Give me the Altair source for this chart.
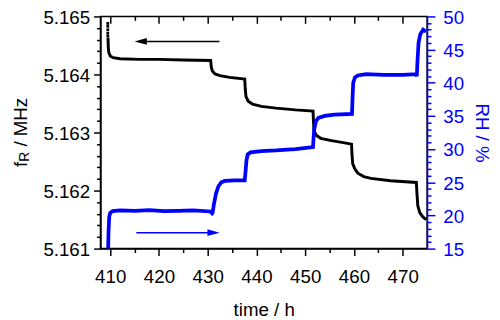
import altair as alt
import pandas as pd

FONT = "Liberation Sans"
BLUE = "#0000ff"

# resonance frequency f_R (MHz) vs time (h)
f_time = [409.55, 409.6, 409.7, 410.0, 410.6, 412.0, 416.0, 420.0, 425.0, 430.6,
          430.75, 430.95, 431.5, 432.5, 434.5, 437.6, 437.7, 437.85, 438.3, 439.2,
          441.0, 444.0, 448.0, 451.6, 451.7, 451.8, 452.3, 453.2, 455.4, 457.5,
          459.5, 459.6, 459.75, 460.2, 460.8, 462.0, 463.5, 467.5, 472.8, 472.95,
          473.1, 473.5, 474.1, 474.8]
f_val = [5.16463, 5.16448, 5.16438, 5.16432, 5.16429, 5.16427, 5.16426, 5.16426, 5.16425, 5.16424,
         5.16412, 5.16406, 5.16401, 5.16398, 5.16395, 5.16392, 5.16375, 5.16362, 5.16354, 5.16349,
         5.16345, 5.16342, 5.16339, 5.16337, 5.16320, 5.16303, 5.16295, 5.16290, 5.16286, 5.16283,
         5.16280, 5.16262, 5.16246, 5.16237, 5.16230, 5.16224, 5.16221, 5.16217, 5.16214, 5.16192,
         5.16174, 5.16162, 5.16155, 5.16150]

# sparse points at the very start of f_R
f_dot_time = [409.5, 409.5, 409.5, 409.5, 409.5]
f_dot_val = [5.16488, 5.16483, 5.16477, 5.16471, 5.16466]

# relative humidity RH (%) vs time (h)
rh_time = [409.55, 409.65, 409.8, 410.0, 410.5, 412.0, 415.0, 418.0, 421.0, 424.0,
           427.0, 430.5, 430.9, 431.0, 431.3, 431.7, 432.2, 432.8, 433.5, 435.5,
           437.6, 437.75, 437.95, 438.2, 438.8, 441.0, 444.0, 448.0, 451.6, 451.7,
           451.85, 452.2, 452.7, 454.0, 456.0, 459.6, 459.7, 459.85, 460.2, 460.8,
           462.5, 466.0, 470.0, 472.7, 472.9, 473.05, 473.25, 473.6, 474.2, 474.8]
rh_val = [14.0, 17.5, 19.8, 20.4, 20.65, 20.75, 20.7, 20.8, 20.65, 20.7,
          20.75, 20.6, 20.3, 20.4, 21.8, 23.3, 24.4, 25.0, 25.2, 25.3,
          25.3, 26.5, 28.3, 29.2, 29.5, 29.7, 29.8, 30.0, 30.3, 31.5,
          33.0, 34.2, 34.7, 35.0, 35.2, 35.3, 37.5, 40.0, 40.8, 41.1,
          41.3, 41.2, 41.2, 41.3, 41.0, 43.5, 46.0, 47.3, 48.0, 47.7]

# arrows: [head centre, tail] in time, and the level
arrow_f_time = [416.25, 432.4]
arrow_f_level = [5.16457]
arrow_rh_time = [415.35, 431.2]
arrow_rh_level = [17.4]

x_major = [410, 420, 430, 440, 450, 460, 470]
x_minor = [415, 425, 435, 445, 455, 465]
f_major = [5.161, 5.162, 5.163, 5.164, 5.165]
f_minor = [5.1612, 5.1614, 5.1616, 5.1618, 5.1622, 5.1624, 5.1626, 5.1628,
           5.1632, 5.1634, 5.1636, 5.1638, 5.1642, 5.1644, 5.1646, 5.1648]
rh_major = [15, 20, 25, 30, 35, 40, 45, 50]
rh_minor = [v for v in range(16, 50) if v % 5 != 0]

X_DOMAIN = [408, 475]
F_DOMAIN = [5.161, 5.165]
RH_DOMAIN = [15, 50]

df_f = pd.DataFrame({"t": f_time, "f": f_val})
df_dots = pd.DataFrame({"t": f_dot_time, "f": f_dot_val})
df_rh = pd.DataFrame({"t": rh_time, "rh": rh_val})
df_af = pd.DataFrame({"t": [arrow_f_time[0]], "t2": [arrow_f_time[1]], "f": arrow_f_level})
df_arh = pd.DataFrame({"t": [arrow_rh_time[0]], "t2": [arrow_rh_time[1]], "rh": arrow_rh_level})
df_one = pd.DataFrame({"a": [0]})


def xenc(axis):
    return alt.X("t:Q", scale=alt.Scale(domain=X_DOMAIN, nice=False, zero=False), axis=axis)


def fenc(axis):
    return alt.Y("f:Q", scale=alt.Scale(domain=F_DOMAIN, nice=False, zero=False), axis=axis)


def rhenc(axis):
    return alt.Y("rh:Q", scale=alt.Scale(domain=RH_DOMAIN, nice=False, zero=False), axis=axis)


black_line = alt.Chart(df_f).mark_line(color="black", strokeWidth=3, clip=True).encode(
    x=xenc(alt.Axis(orient="bottom", values=x_major, format="d", tickSize=7, labelPadding=12,
                    title="time / h", titlePadding=15)),
    y=fenc(alt.Axis(orient="left", values=f_major, format=".3f", tickSize=7, labelPadding=4,
                    labelOffset=1, title=None)),
)

dots = alt.Chart(df_dots).mark_square(size=8, color="black", opacity=1).encode(
    x=xenc(alt.Axis(orient="bottom", values=x_minor, tickSize=4, labels=False, domain=False,
                    title=None)),
    y=fenc(alt.Axis(orient="left", values=f_minor, tickSize=4, labels=False, domain=False,
                    title=None)),
)

black_shaft = alt.Chart(df_af).mark_rule(color="black", strokeWidth=1.5).encode(
    x=xenc(alt.Axis(orient="top", values=x_major, tickSize=7, offset=-7, labels=False,
                    domain=False, title=None)),
    x2="t2:Q",
    y=fenc(None),
)

left_head = "M-1,0L1,-0.55L1,0.55Z"
right_head = "M1,0L-1,-0.55L-1,0.55Z"

black_head = alt.Chart(df_af).mark_point(shape=left_head, filled=True, size=156, color="black",
                                         opacity=1, strokeWidth=0).encode(
    x=xenc(alt.Axis(orient="top", values=x_minor, tickSize=4, offset=-4, labels=False,
                    domain=False, title=None)),
    y=fenc(None),
)

blue_line = alt.Chart(df_rh).mark_line(color=BLUE, strokeWidth=3.8, clip=True).encode(
    x=xenc(None),
    y=rhenc(alt.Axis(orient="right", values=rh_major, tickSize=8, labelPadding=8,
                     labelOffset=1, title="RH / %", titlePadding=8, labelColor=BLUE,
                     tickColor=BLUE, domainColor=BLUE, titleColor=BLUE)),
)

blue_shaft = alt.Chart(df_arh).mark_rule(color=BLUE, strokeWidth=1.5).encode(
    x=xenc(None),
    x2="t2:Q",
    y=rhenc(alt.Axis(orient="right", values=rh_minor, tickSize=4, labels=False, domain=False,
                     title=None, tickColor=BLUE)),
)

blue_head = alt.Chart(df_arh.assign(t=[arrow_rh_time[1]])).mark_point(
    shape=right_head, filled=True, size=156, color=BLUE, opacity=1, strokeWidth=0).encode(
    x=xenc(None),
    y=rhenc(None),
)

t_f = alt.Chart(df_one).mark_text(text="f", angle=270, align="left", baseline="alphabetic",
                                  font=FONT, fontSize=19, color="black").encode(
    x=alt.value(-74.7), y=alt.value(153))
t_r = alt.Chart(df_one).mark_text(text="R", angle=270, align="left", baseline="alphabetic",
                                  font=FONT, fontSize=14, color="black").encode(
    x=alt.value(-72.5), y=alt.value(147.7))
t_rest = alt.Chart(df_one).mark_text(text="/ MHz", angle=270, align="left", baseline="alphabetic",
                                     font=FONT, fontSize=19, color="black").encode(
    x=alt.value(-74.7), y=alt.value(132.3))

chart = alt.layer(
    black_line, dots, black_shaft, black_head, blue_line, blue_shaft, blue_head, t_f, t_r, t_rest
).resolve_scale(
    y="independent"
).resolve_axis(
    x="independent", y="independent"
).properties(
    width=332, height=236,
    autosize=alt.AutoSizeParams(type="none"),
    padding={"left": 94, "top": 6, "right": 66, "bottom": 70},
).configure_view(
    stroke="black", strokeWidth=1.5
).configure_axis(
    labelFont=FONT, labelFontSize=19, titleFont=FONT, titleFontSize=19,
    titleFontWeight="normal", labelColor="black", titleColor="black",
    domainColor="black", tickColor="black", domainWidth=1.5, tickWidth=1.5,
    grid=False, labelFlush=False, labelOverlap=False
)

chart.save("out.html", embed_options={"renderer": "svg", "actions": False})
